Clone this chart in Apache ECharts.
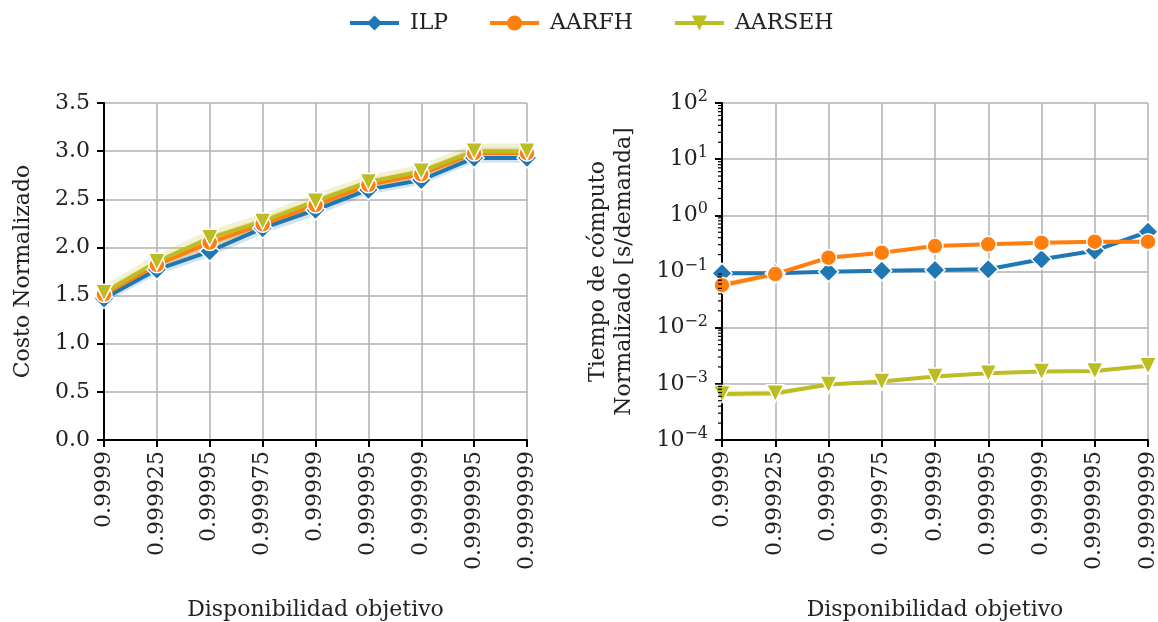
<!DOCTYPE html>
<html>
<head>
<meta charset="utf-8">
<script src="https://cdn.jsdelivr.net/npm/echarts@6/dist/echarts.min.js"></script>
<style>
  html, body { margin: 0; padding: 0; background: #fff; }
  #chart { width: 1158px; height: 622px; }
</style>
</head>
<body>
<div id="chart"></div>
<script>
var categories = ['0.9999', '0.999925', '0.99995', '0.999975', '0.99999', '0.999995', '0.999999', '0.9999995', '0.9999999'];

// costo normalizado (left panel)
var costILP = [1.47, 1.77, 1.96, 2.20, 2.39, 2.60, 2.70, 2.93, 2.93];
var costILPLow = [1.42, 1.72, 1.90, 2.14, 2.33, 2.55, 2.65, 2.88, 2.88];
var costILPHigh = [1.52, 1.82, 2.02, 2.26, 2.45, 2.65, 2.75, 2.98, 2.98];
var costAARFH = [1.51, 1.82, 2.05, 2.24, 2.44, 2.65, 2.76, 2.98, 2.98];
var costAARFHLow = [1.45, 1.76, 1.98, 2.17, 2.37, 2.59, 2.70, 2.92, 2.92];
var costAARFHHigh = [1.57, 1.88, 2.12, 2.31, 2.51, 2.71, 2.82, 3.04, 3.04];
var costAARSEH = [1.53, 1.85, 2.10, 2.27, 2.48, 2.68, 2.79, 3.00, 3.00];
var costAARSEHLow = [1.46, 1.78, 2.02, 2.19, 2.40, 2.61, 2.72, 2.93, 2.93];
var costAARSEHHigh = [1.61, 1.93, 2.18, 2.35, 2.56, 2.75, 2.86, 3.08, 3.08];

// tiempo de computo normalizado (right panel, log)
var timeILP = [0.093, 0.093, 0.099, 0.103, 0.106, 0.11, 0.165, 0.235, 0.51];
var timeILPLow = [0.089, 0.089, 0.095, 0.099, 0.102, 0.106, 0.158, 0.225, 0.49];
var timeILPHigh = [0.097, 0.097, 0.103, 0.107, 0.110, 0.114, 0.172, 0.245, 0.53];
var timeAARFH = [0.057, 0.09, 0.176, 0.216, 0.284, 0.305, 0.326, 0.34, 0.34];
var timeAARFHLow = [0.050, 0.082, 0.160, 0.205, 0.272, 0.293, 0.314, 0.328, 0.328];
var timeAARFHHigh = [0.065, 0.099, 0.193, 0.228, 0.297, 0.317, 0.339, 0.353, 0.353];
var timeAARSEH = [0.00066, 0.00068, 0.00097, 0.0011, 0.00135, 0.00155, 0.00165, 0.0017, 0.0021];
var timeAARSEHLow = [0.00058, 0.00060, 0.00090, 0.00104, 0.00128, 0.00148, 0.00158, 0.00163, 0.0020];
var timeAARSEHHigh = [0.00075, 0.00077, 0.00104, 0.00117, 0.00142, 0.00162, 0.00172, 0.00177, 0.0022];

var timeDecades = [-4, -3, -2, -1, 0, 1, 2];

var FONT = 'DejaVu Serif';
var FS = 22;
var INK = '#222222';
var colILP = '#1f77b4', colAARFH = '#ff7f0e', colAARSEH = '#bcbd22';

var chart = echarts.init(document.getElementById('chart'));

function bandSeries(name, low, high, color, axis) {
    return {
        name: name + ' band',
        type: 'custom',
        xAxisIndex: axis, yAxisIndex: axis,
        silent: true, z: 1,
        data: [[0, low[0]]],
        renderItem: function (params, api) {
            var pts = [];
            for (var i = 0; i < high.length; i++) pts.push(api.coord([i, high[i]]));
            for (var j = low.length - 1; j >= 0; j--) pts.push(api.coord([j, low[j]]));
            return { type: 'polygon', shape: { points: pts }, style: { fill: color, opacity: 0.2 } };
        }
    };
}

function lineSeries(name, data, color, symbol, size, rotate, axis) {
    return {
        name: name, type: 'line', data: data,
        xAxisIndex: axis, yAxisIndex: axis,
        symbol: symbol, symbolSize: size, symbolRotate: rotate,
        showAllSymbol: true, z: 3,
        lineStyle: { color: color, width: 4 },
        itemStyle: { color: color, borderColor: '#fff', borderWidth: 1.5 },
        emphasis: { disabled: true }
    };
}

var minorVals = [];
timeDecades.forEach(function (d) {
    if (d >= 2) return;
    for (var m = 2; m <= 9; m++) minorVals.push(m * Math.pow(10, d));
});

var option = {
    animation: false,
    textStyle: { fontFamily: FONT, color: INK },
    legend: {
        top: 7, left: 343,
        data: ['ILP', 'AARFH', 'AARSEH'],
        itemWidth: 49, itemHeight: 19, itemGap: 40,
        lineStyle: { width: 4 },
        itemStyle: { borderWidth: 0 },
        textStyle: { fontFamily: FONT, fontSize: FS, color: INK, padding: [0, 0, 0, 6] }
    },
    grid: [
        { left: 104, top: 103, width: 423, height: 337, outerBoundsMode: 'none', containLabel: false },
        { left: 722, top: 103, width: 426, height: 337, outerBoundsMode: 'none', containLabel: false }
    ],
    xAxis: [0, 1].map(function (i) {
        return {
            type: 'category', gridIndex: i, data: categories, boundaryGap: false,
            name: 'Disponibilidad objetivo', nameLocation: 'middle', nameGap: 159,
            nameTextStyle: { fontFamily: FONT, fontSize: FS, color: INK },
            axisLine: { lineStyle: { color: '#000', width: 2 } },
            axisTick: { show: true, length: 7, lineStyle: { color: '#000', width: 2 }, interval: 0 },
            axisLabel: { rotate: 90, interval: 0, margin: 11, fontFamily: FONT, fontSize: FS, color: INK },
            splitLine: { show: true, interval: 0, lineStyle: { color: '#b0b0b0', width: 1.5 } }
        };
    }),
    yAxis: [
        {
            type: 'value', gridIndex: 0, min: 0, max: 3.5, interval: 0.5,
            name: 'Costo Normalizado', nameLocation: 'middle', nameGap: 70,
            nameTextStyle: { fontFamily: FONT, fontSize: FS, color: INK },
            axisLine: { show: true, lineStyle: { color: '#000', width: 2 } },
            axisTick: { show: true, length: 7, lineStyle: { color: '#000', width: 2 } },
            axisLabel: { margin: 14, fontFamily: FONT, fontSize: FS, color: INK,
                formatter: function (v) { return v.toFixed(1); } },
            splitLine: { show: true, lineStyle: { color: '#b0b0b0', width: 1.5 } }
        },
        {
            type: 'log', gridIndex: 1, logBase: 10, min: 1e-4, max: 100,
            name: 'Tiempo de cómputo\nNormalizado [s/demanda]', nameLocation: 'middle', nameGap: 85,
            nameTextStyle: { fontFamily: FONT, fontSize: FS, color: INK, lineHeight: 26 },
            axisLine: { show: true, lineStyle: { color: '#000', width: 2 } },
            axisTick: { show: true, length: 7, lineStyle: { color: '#000', width: 2 } },
            axisLabel: {
                margin: 14, fontFamily: FONT, color: INK,
                formatter: function (v) {
                    var e = Math.round(Math.log10(v));
                    var s = String(e).replace('-', '\u2212');
                    return '{b|10}{s|' + s + '}';
                },
                rich: {
                    b: { fontFamily: FONT, fontSize: FS, color: INK },
                    s: { fontFamily: FONT, fontSize: 16, color: INK, verticalAlign: 'bottom', padding: [0, 0, 12, 0] }
                }
            },
            splitLine: { show: true, lineStyle: { color: '#b0b0b0', width: 1.5 } }
        }
    ],
    series: [
        bandSeries('ILP', costILPLow, costILPHigh, colILP, 0),
        bandSeries('AARFH', costAARFHLow, costAARFHHigh, colAARFH, 0),
        bandSeries('AARSEH', costAARSEHLow, costAARSEHHigh, colAARSEH, 0),
        lineSeries('ILP', costILP, colILP, 'diamond', 20, 0, 0),
        lineSeries('AARFH', costAARFH, colAARFH, 'circle', 16, 0, 0),
        lineSeries('AARSEH', costAARSEH, colAARSEH, 'triangle', 17, 180, 0),
        bandSeries('ILP', timeILPLow, timeILPHigh, colILP, 1),
        bandSeries('AARFH', timeAARFHLow, timeAARFHHigh, colAARFH, 1),
        bandSeries('AARSEH', timeAARSEHLow, timeAARSEHHigh, colAARSEH, 1),
        lineSeries('ILP', timeILP, colILP, 'diamond', 20, 0, 1),
        lineSeries('AARFH', timeAARFH, colAARFH, 'circle', 16, 0, 1),
        lineSeries('AARSEH', timeAARSEH, colAARSEH, 'triangle', 17, 180, 1),
        {
            name: 'minor ticks', type: 'custom', xAxisIndex: 1, yAxisIndex: 1,
            silent: true, clip: false, z: 5,
            data: minorVals.map(function (v) { return [0, v]; }),
            renderItem: function (params, api) {
                var p = api.coord([0, api.value(1)]);
                return { type: 'line', shape: { x1: p[0] - 4, y1: p[1], x2: p[0], y2: p[1] },
                    style: { stroke: '#000', lineWidth: 1.2 } };
            }
        }
    ]
};

chart.setOption(option);
</script>
</body>
</html>
